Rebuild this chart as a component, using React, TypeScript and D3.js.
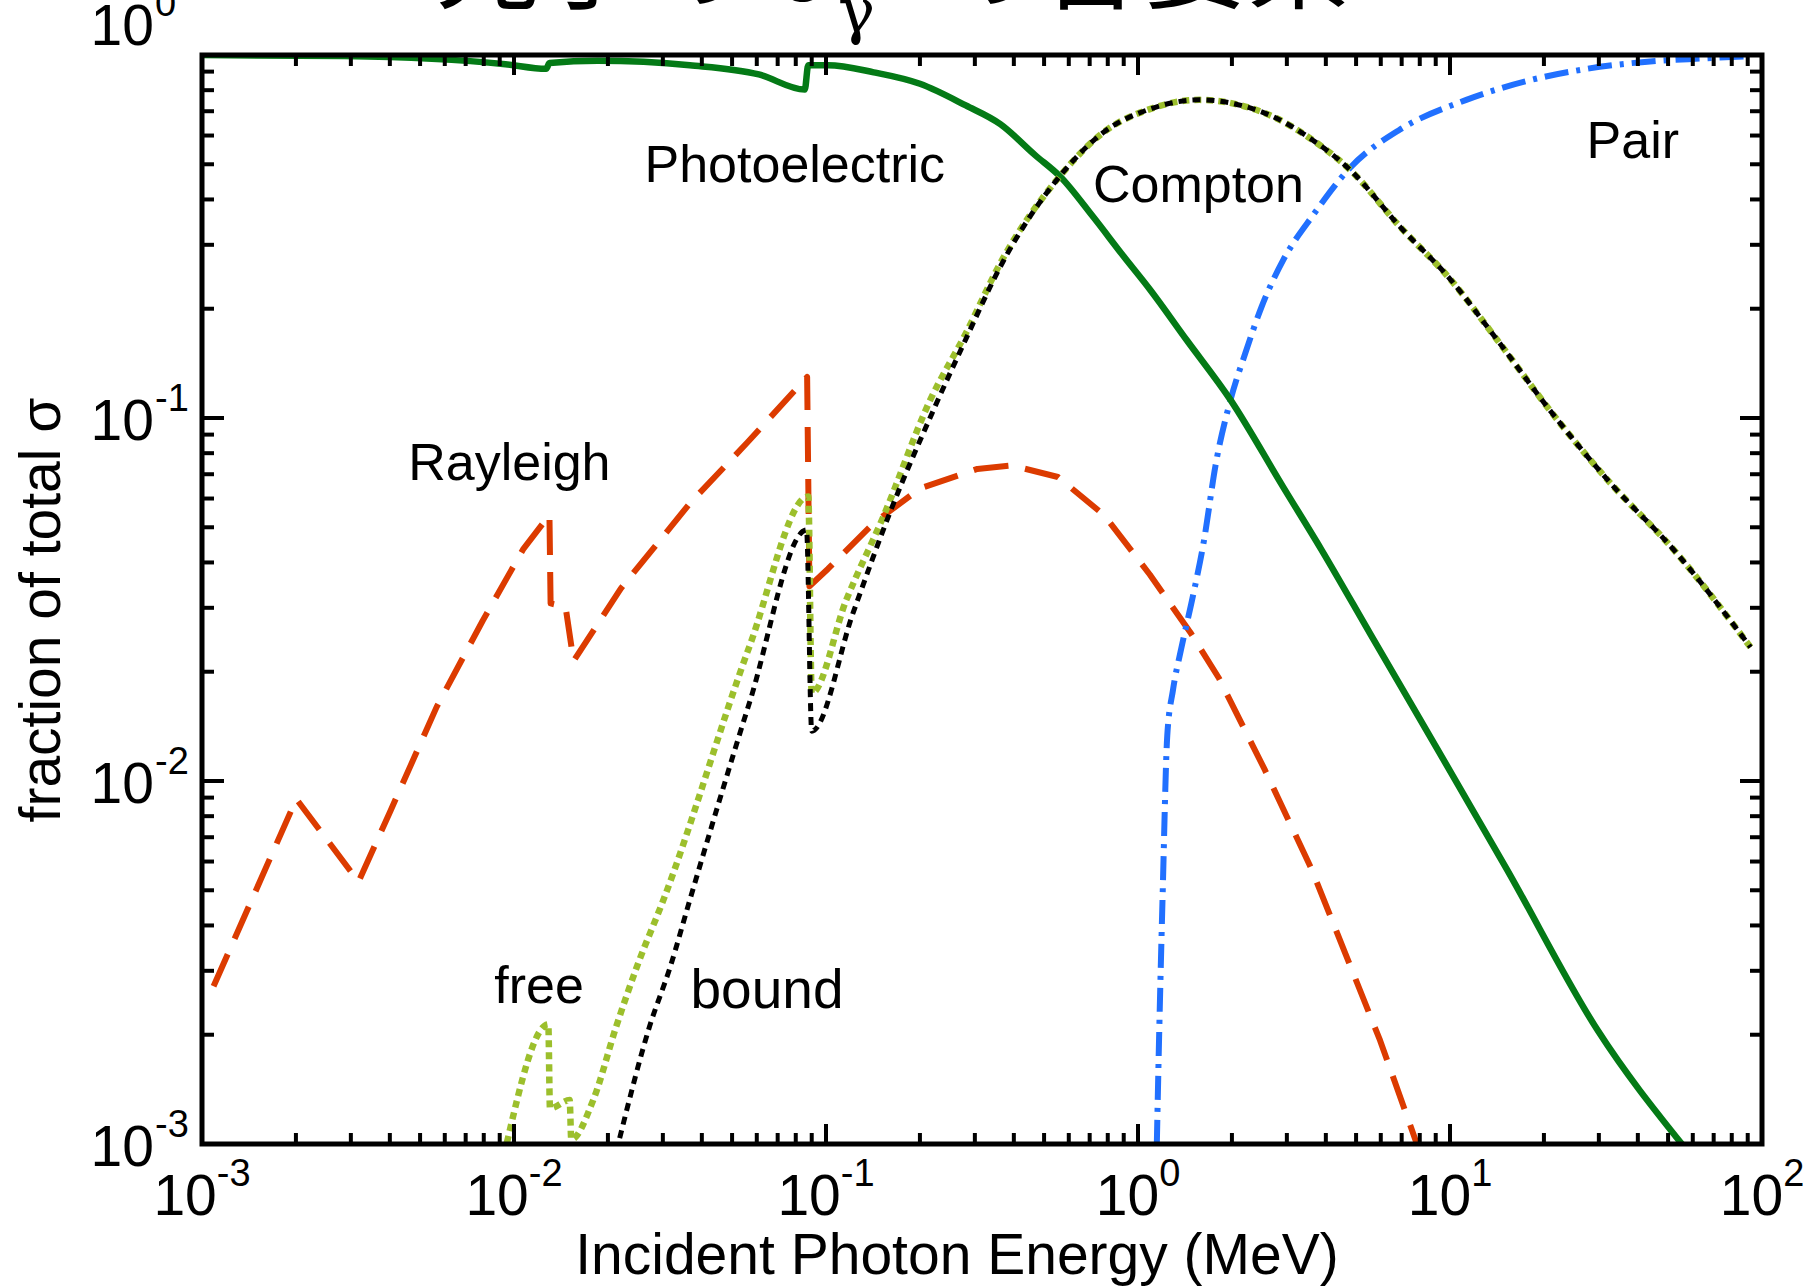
import React, { useRef, useEffect } from 'react';
import * as d3 from 'd3';

// values (energy in MeV, fraction of total cross section)
const photoE = [0.001, 0.00286, 0.00939, 0.01267, 0.0130, 0.01854, 0.0366, 0.0609, 0.0855, 0.0877, 0.1014, 0.1422, 0.2, 0.2806, 0.362, 0.468, 0.564, 0.715, 0.899, 1.092, 1.432, 1.979, 2.924, 3.87, 5.57, 9.12, 15.2, 29.7, 55.7];
const photoF = [1.0, 0.993, 0.943, 0.916, 0.95, 0.964, 0.937, 0.884, 0.803, 0.937, 0.937, 0.896, 0.833, 0.726, 0.645, 0.53, 0.462, 0.36, 0.279, 0.226, 0.164, 0.1122, 0.0644, 0.0434, 0.0253, 0.01222, 0.00572, 0.00206, 0.000993];

const freeE = [0.00949, 0.01288, 0.01304, 0.01508, 0.01526, 0.01794, 0.02126, 0.02476, 0.0301, 0.0569, 0.08774, 0.09, 0.1161, 0.1524, 0.2158, 0.2808, 0.3622, 0.5632, 0.7777, 1.092, 1.574, 2.154, 2.78, 3.586, 4.786, 6.895, 10.02, 14.19, 21.33, 32.61, 52.0, 91.9];
const freeF = [0.001008, 0.002137, 0.001254, 0.001321, 0.00103, 0.001321, 0.002106, 0.003076, 0.004696, 0.02354, 0.0608, 0.01746, 0.0315, 0.0533, 0.1121, 0.1712, 0.2672, 0.465, 0.6135, 0.7097, 0.7523, 0.7253, 0.6694, 0.5871, 0.4824, 0.3373, 0.2411, 0.1638, 0.1027, 0.0663, 0.04345, 0.02336];

const boundE = [0.02181, 0.02719, 0.03168, 0.03659, 0.0569, 0.0866, 0.09, 0.1222, 0.1603, 0.2233, 0.2808, 0.3622, 0.5632, 0.7777, 1.092, 1.574, 2.154, 2.78, 3.586, 4.786, 6.895, 10.02, 14.19, 21.33, 32.61, 52.0, 91.9];
const boundF = [0.001038, 0.002106, 0.003076, 0.004696, 0.01647, 0.04917, 0.01372, 0.0291, 0.0549, 0.1073, 0.1651, 0.2614, 0.465, 0.6135, 0.7097, 0.7523, 0.7253, 0.6694, 0.5871, 0.4824, 0.3373, 0.2411, 0.1638, 0.1027, 0.0663, 0.04345, 0.02336];

const rayE = [0.001089, 0.002006, 0.003174, 0.004024, 0.005652, 0.007937, 0.01069, 0.01299, 0.0131, 0.01463, 0.01552, 0.02199, 0.03659, 0.05595, 0.087, 0.08849, 0.1014, 0.1423, 0.2, 0.3057, 0.3944, 0.5539, 0.7777, 1.092, 1.47, 1.818, 2.553, 3.586, 4.627, 5.969, 7.831];
const rayF = [0.002719, 0.008925, 0.005279, 0.008295, 0.016, 0.02764, 0.04344, 0.05407, 0.03084, 0.03017, 0.02141, 0.0339, 0.05816, 0.0856, 0.1297, 0.0344, 0.03838, 0.05138, 0.06393, 0.0724, 0.074, 0.06879, 0.05407, 0.037, 0.0257, 0.01919, 0.01071, 0.00576, 0.003334, 0.001929, 0.001];

const pairE = [1.149, 1.169, 1.199, 1.241, 1.295, 1.374, 1.496, 1.628, 1.772, 1.979, 2.21, 2.489, 2.925, 3.647, 4.786, 6.895, 11.28, 18.0, 27.52, 42.06, 64.31, 91.9];
const pairF = [0.001, 0.002, 0.0048, 0.01333, 0.01784, 0.02304, 0.03198, 0.04606, 0.074, 0.1121, 0.1512, 0.2024, 0.273, 0.3628, 0.4893, 0.6223, 0.7522, 0.8518, 0.9162, 0.9572, 0.9784, 0.9927];

const xTickExp = ['-3', '-2', '-1', '0', '1', '2'];
const yTickExp = ['0', '-1', '-2', '-3'];

const labels = [
  { text: 'Photoelectric', e: 0.0262, f: 0.447 },
  { text: 'Compton', e: 0.717, f: 0.394 },
  { text: 'Pair', e: 27.4, f: 0.52 },
  { text: 'Rayleigh', e: 0.00458, f: 0.0675 },
  { text: 'free', e: 0.00865, f: 0.00245 },
  { text: 'bound', e: 0.0368, f: 0.00237 },
];

const App = () => {
  const svgRef = useRef(null);

  useEffect(() => {
    const width = 1803;
    const height = 1287;
    const m = { left: 202, right: 1762, top: 55, bottom: 1144 };

    const svg = d3.select(svgRef.current);
    svg.selectAll('*').remove();
    svg.attr('width', width).attr('height', height);

    const x = d3.scaleLog().domain([1e-3, 1e2]).range([m.left, m.right]);
    const y = d3.scaleLog().domain([1e-3, 1]).range([m.bottom, m.top]);

    svg.append('defs').append('clipPath').attr('id', 'plot')
      .append('rect')
      .attr('x', m.left).attr('y', m.top)
      .attr('width', m.right - m.left).attr('height', m.bottom - m.top);

    // title, mostly cut off by the top of the picture
    const cjk = '"Noto Sans CJK JP", sans-serif';
    svg.append('text')
      .attr('x', 835).attr('y', 1)
      .attr('text-anchor', 'end')
      .style('font-family', cjk).style('font-size', '104px')
      .text('光子の σ');
    svg.append('text')
      .attr('x', 838).attr('y', 32)
      .style('font-family', '"DejaVu Serif", serif').style('font-size', '62px')
      .text('γ');
    svg.append('text')
      .attr('x', 935).attr('y', 1)
      .style('font-family', cjk).style('font-size', '104px')
      .text('の各要素');

    const smooth = d3.line()
      .x(d => x(d[0]))
      .y(d => y(d[1]))
      .curve(d3.curveMonotoneX);
    const straight = d3.line()
      .x(d => x(d[0]))
      .y(d => y(d[1]));

    const curves = svg.append('g').attr('clip-path', 'url(#plot)');
    const series = [
      { e: rayE, f: rayF, color: '#dc3b00', w: 6, dash: '35,17', gen: straight },
      { e: pairE, f: pairF, color: '#2170ff', w: 6, dash: '24,8,4,8', gen: smooth },
      { e: photoE, f: photoF, color: '#047a16', w: 6.5, dash: null, gen: smooth },
      { e: freeE, f: freeF, color: '#9cbf2c', w: 6.5, dash: '7,5', gen: smooth },
      { e: boundE, f: boundF, color: '#000000', w: 5, dash: '8,6', gen: smooth },
    ];
    series.forEach(s => {
      curves.append('path')
        .attr('d', s.gen(s.e.map((v, i) => [v, s.f[i]])))
        .attr('fill', 'none')
        .attr('stroke', s.color)
        .attr('stroke-width', s.w)
        .attr('stroke-dasharray', s.dash)
        .attr('stroke-linejoin', 'round');
    });

    // ticks on all four sides, pointing inward
    const ax = svg.append('g').attr('stroke', '#000').attr('stroke-width', 4);
    const minors = (lo, hi) => {
      const out = [];
      for (let p = lo; p < hi; p++) {
        for (let k = 1; k <= 9; k++) out.push({ v: k * Math.pow(10, p), major: k === 1 });
      }
      out.push({ v: Math.pow(10, hi), major: true });
      return out;
    };
    minors(-3, 2).forEach(t => {
      const len = t.major ? 20 : 11;
      const px = x(t.v);
      ax.append('line').attr('x1', px).attr('x2', px).attr('y1', m.bottom).attr('y2', m.bottom - len);
      ax.append('line').attr('x1', px).attr('x2', px).attr('y1', m.top).attr('y2', m.top + len);
    });
    minors(-3, 0).forEach(t => {
      const len = t.major ? 22 : 12;
      const py = y(t.v);
      ax.append('line').attr('y1', py).attr('y2', py).attr('x1', m.left).attr('x2', m.left + len);
      ax.append('line').attr('y1', py).attr('y2', py).attr('x1', m.right).attr('x2', m.right - len);
    });

    svg.append('rect')
      .attr('x', m.left).attr('y', m.top)
      .attr('width', m.right - m.left).attr('height', m.bottom - m.top)
      .attr('fill', 'none').attr('stroke', '#000').attr('stroke-width', 5);

    const font = 'Liberation Sans, Arial, sans-serif';

    xTickExp.forEach(p => {
      const t = svg.append('text')
        .attr('x', x(Math.pow(10, +p))).attr('y', 1215)
        .attr('text-anchor', 'middle')
        .style('font-family', font).style('font-size', '57px');
      t.append('tspan').text('10');
      t.append('tspan').attr('dy', -29).style('font-size', '38px').text(p);
    });

    // y labels: the "10" ends at a fixed x, the exponent follows it
    yTickExp.forEach((p, i) => {
      const base = i === 0 ? y(1) - 10 : y(Math.pow(10, +p)) + 22;
      svg.append('text')
        .attr('x', 154).attr('y', base)
        .attr('text-anchor', 'end')
        .style('font-family', font).style('font-size', '57px')
        .text('10');
      svg.append('text')
        .attr('x', 155).attr('y', base - 29)
        .style('font-family', font).style('font-size', '38px')
        .text(p);
    });

    svg.append('text')
      .attr('x', 957).attr('y', 1274)
      .attr('text-anchor', 'middle')
      .style('font-family', font).style('font-size', '57px')
      .text('Incident Photon Energy (MeV)');

    svg.append('text')
      .attr('transform', 'translate(60,610) rotate(-90)')
      .attr('text-anchor', 'middle')
      .style('font-family', font).style('font-size', '57px')
      .text('fraction of total σ');

    labels.forEach(l => {
      svg.append('text')
        .attr('x', x(l.e)).attr('y', y(l.f))
        .style('font-family', font).style('font-size', l.text === 'bound' ? '55px' : '52px')
        .text(l.text);
    });
  }, []);

  return (
    <svg ref={svgRef} style={{ position: 'absolute', left: 0, top: 0, background: '#fff' }}></svg>
  );
};

export default App;
